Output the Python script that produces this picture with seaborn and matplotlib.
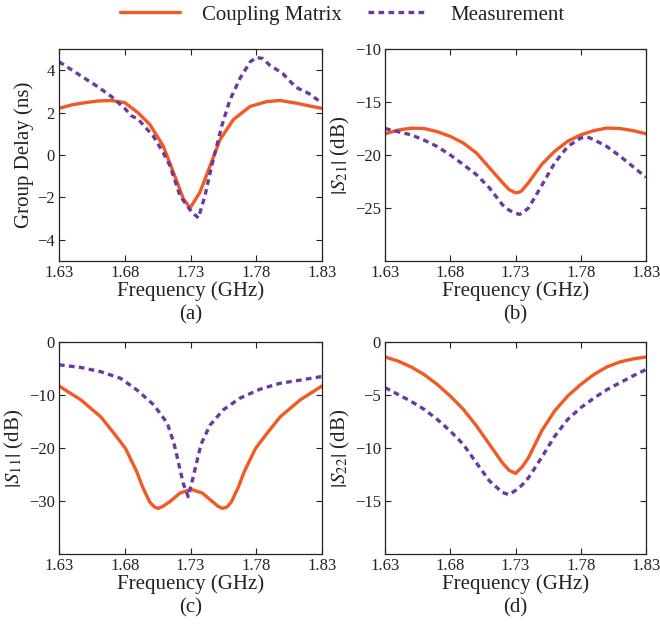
import numpy as np
import pandas as pd
import matplotlib
matplotlib.use("Agg")
import matplotlib.pyplot as plt
import seaborn as sns

# (a) group delay, ns
freq_gd_cm = [1.63, 1.64, 1.65, 1.66, 1.67, 1.68, 1.69, 1.6992, 1.7093, 1.717, 1.7246, 1.7297,
              1.7372, 1.7449, 1.7525, 1.7626, 1.7753, 1.788, 1.798, 1.81, 1.82, 1.83]
gd_cm = [2.2, 2.37, 2.47, 2.55, 2.57, 2.47, 2.0, 1.43, 0.42, -0.82, -2.07, -2.5,
         -1.76, -0.51, 0.73, 1.67, 2.29, 2.52, 2.57, 2.45, 2.32, 2.2]

freq_gd_meas = [1.63, 1.64, 1.65, 1.66, 1.67, 1.68, 1.685, 1.69, 1.7017, 1.7093, 1.7144, 1.722,
                1.7309, 1.736, 1.741, 1.7461, 1.7499, 1.7537, 1.76, 1.7677, 1.7753, 1.78,
                1.785, 1.79, 1.80, 1.81, 1.82, 1.83]
gd_meas = [4.4, 4.0, 3.6, 3.2, 2.75, 2.2, 1.85, 1.7, 0.89, 0.11, -0.51, -1.92,
           -2.69, -2.97, -1.92, -0.51, 0.42, 1.36, 2.6, 3.62, 4.39, 4.6,
           4.55, 4.25, 3.85, 3.2, 2.9, 2.45]

# (b) |S21|, dB
freq_s21 = [1.63, 1.64, 1.65, 1.66, 1.67, 1.68, 1.69, 1.70, 1.71, 1.72, 1.725, 1.73, 1.733,
            1.735, 1.74, 1.75, 1.76, 1.77, 1.78, 1.785, 1.79, 1.80, 1.81, 1.82, 1.83]
s21_cm = [-18.0, -17.65, -17.47, -17.5, -17.8, -18.24, -18.87, -19.8, -21.2, -22.6, -23.25, -23.57, -23.5,
          -23.35, -22.6, -20.9, -19.65, -18.7, -18.1, -17.9, -17.7, -17.46, -17.5, -17.7, -18.0]
s21_meas = [-17.5, -17.8, -18.1, -18.6, -19.2, -20.0, -20.9, -21.85, -23.1, -24.7, -25.2, -25.5, -25.6,
            -25.5, -25.0, -22.9, -20.75, -19.2, -18.4, -18.3, -18.55, -19.2, -20.1, -21.1, -22.1]

# (c) |S11|, dB
freq_s11_cm = [1.63, 1.6465, 1.6617, 1.6717, 1.6806, 1.689, 1.694, 1.699, 1.7025, 1.7055, 1.709,
               1.7144, 1.722, 1.7305, 1.739, 1.7466, 1.751, 1.7545, 1.758, 1.761, 1.766, 1.771,
               1.7794, 1.7883, 1.7983, 1.8135, 1.83]
s11_cm = [-8.3, -10.9, -14.1, -17.2, -20.1, -24.4, -27.6, -30.2, -31.1, -31.4, -31.0,
          -30.1, -28.5, -27.8, -28.5, -30.1, -31.0, -31.4, -31.1, -30.2, -27.6, -24.4,
          -20.1, -17.2, -14.1, -10.9, -8.3]

freq_s11_meas = [1.63, 1.6465, 1.6617, 1.6768, 1.6895, 1.7022, 1.7123, 1.7174, 1.7207, 1.7245,
                 1.7283, 1.7321, 1.738, 1.7448, 1.7549, 1.7676, 1.7829, 1.798, 1.8133, 1.83]
s11_meas = [-4.3, -4.8, -5.6, -6.85, -9.1, -11.9, -15.3, -19.1, -22.6, -26.7,
            -29.2, -25.4, -19.3, -15.7, -12.8, -10.6, -8.9, -7.8, -7.2, -6.5]

# (d) |S22|, dB
freq_s22 = [1.63, 1.64, 1.65, 1.66, 1.67, 1.68, 1.69, 1.70, 1.71, 1.72, 1.725, 1.73, 1.735,
            1.74, 1.75, 1.76, 1.77, 1.78, 1.79, 1.80, 1.81, 1.82, 1.83]
s22_cm = [-1.41, -1.8, -2.35, -3.07, -4.0, -5.1, -6.35, -7.9, -9.65, -11.4, -12.1, -12.4, -11.8,
          -10.9, -8.4, -6.5, -5.1, -4.0, -3.07, -2.35, -1.88, -1.6, -1.41]
s22_meas = [-4.3, -4.95, -5.6, -6.35, -7.3, -8.4, -9.65, -11.4, -13.1, -14.2, -14.4, -14.0, -13.5,
            -12.8, -10.9, -8.9, -7.3, -6.2, -5.3, -4.5, -3.85, -3.2, -2.6]

x_ticks = [1.63, 1.68, 1.73, 1.78, 1.83]
series_names = ["Coupling Matrix", "Measurement"]

ORANGE = "#F15A24"
PURPLE = "#6A3AA2"
INK = "#222222"

sns.set_theme(style="ticks")
plt.rcParams["font.family"] = ["Liberation Serif", "DejaVu Serif"]
plt.rcParams["mathtext.fontset"] = "stix"
plt.rcParams["xtick.direction"] = "in"
plt.rcParams["ytick.direction"] = "in"

fig = plt.figure(figsize=(6.6, 6.24), dpi=100)
W, H = 660, 624


def make_ax(l, r, t, b):
    return fig.add_axes([l / W, 1 - b / H, (r - l) / W, (b - t) / H])


ax_a = make_ax(59, 322, 49, 261)
ax_b = make_ax(385, 646, 49, 261)
ax_c = make_ax(59, 322, 342, 554)
ax_d = make_ax(385, 646, 342, 554)


def draw(ax, f_cm, y_cm, f_meas, y_meas, ylim, yticks, ylabel, tag):
    df_cm = pd.DataFrame({"f": f_cm, "v": y_cm})
    df_meas = pd.DataFrame({"f": f_meas, "v": y_meas})
    sns.lineplot(data=df_cm, x="f", y="v", ax=ax, color=ORANGE, lw=2.4,
                 label=series_names[0], legend=False)
    sns.lineplot(data=df_meas, x="f", y="v", ax=ax, color=PURPLE, lw=2.4,
                 linestyle=(0, (1.7, 1.3)), label=series_names[1], legend=False)
    ax.set_xlim(1.63, 1.83)
    ax.set_ylim(*ylim)
    ax.set_xticks(x_ticks)
    ax.set_xticklabels([f"{t:.2f}" for t in x_ticks])
    ax.set_yticks(yticks)
    ax.set_yticklabels([f"{t:g}".replace("-", "\u2212") for t in yticks])
    ax.tick_params(axis="both", which="both", top=True, right=True, length=4,
                   width=0.8, labelsize=12, colors=INK, pad=3)
    for s in ax.spines.values():
        s.set_linewidth(0.9)
        s.set_color(INK)
    ax.set_xlabel("Frequency (GHz)", fontsize=15, labelpad=0, color=INK)
    ax.set_ylabel(ylabel, fontsize=15, labelpad=2, color=INK)
    ax.text(0.5, -0.21, tag, transform=ax.transAxes, ha="center", va="top",
            fontsize=15, color=INK)


draw(ax_a, freq_gd_cm, gd_cm, freq_gd_meas, gd_meas, (-5, 5), [-4, -2, 0, 2, 4],
     "Group Delay (ns)", "(a)")
draw(ax_b, freq_s21, s21_cm, freq_s21, s21_meas, (-30, -10), [-25, -20, -15, -10],
     r"$\left|S_{21}\right|$ (dB)", "(b)")
draw(ax_c, freq_s11_cm, s11_cm, freq_s11_meas, s11_meas, (-40, 0), [-30, -20, -10, 0],
     r"$\left|S_{11}\right|$ (dB)", "(c)")
draw(ax_d, freq_s22, s22_cm, freq_s22, s22_meas, (-20, 0), [-15, -10, -5, 0],
     r"$\left|S_{22}\right|$ (dB)", "(d)")

handles, labels = ax_a.get_legend_handles_labels()
fig.legend(handles, labels, loc="center", bbox_to_anchor=(342 / W, 1 - 15 / H), ncol=2,
           frameon=False, fontsize=15, handlelength=2.9, columnspacing=1.25,
           handletextpad=1.05, labelcolor=INK)

fig.savefig("out.png", dpi=100, facecolor="white")
